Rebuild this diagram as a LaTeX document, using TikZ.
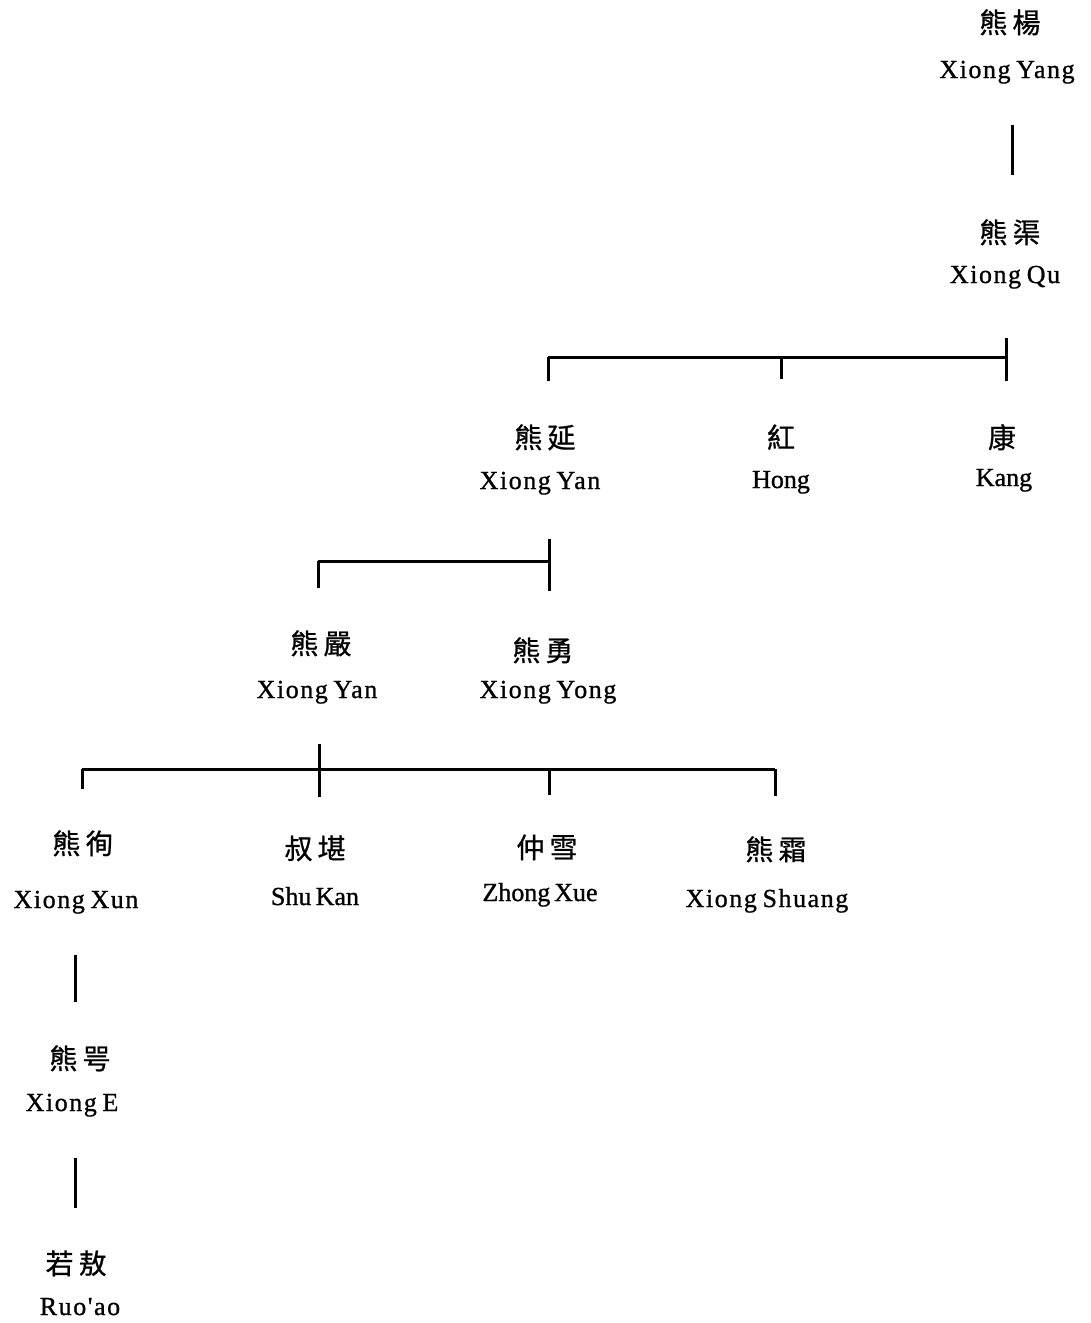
\documentclass[tikz,border=0pt]{standalone}
\usepackage{fontspec}
\setmainfont{Liberation Serif}
\newfontfamily\cjk[FakeBold=0.8]{Noto Sans CJK TC}
\newfontfamily\latsp[LetterSpace=6,FakeBold=1,WordSpace=0.7]{Liberation Serif}
\newfontfamily\latn[FakeBold=1,WordSpace=0.6]{Liberation Serif}
\newcommand\cn[2]{#1\hspace{5pt}#2}
\begin{document}
\begin{tikzpicture}[x=1pt,y=-1pt,
  cnname/.style={inner sep=0pt,anchor=base,font=\cjk\fontsize{28}{28}\selectfont},
  latname/.style={inner sep=0pt,anchor=base,font=\latsp\fontsize{26}{26}\selectfont},
  latnarrow/.style={inner sep=0pt,anchor=base,font=\latn\fontsize{26}{26}\selectfont},
  ln/.style={line width=3pt,line cap=butt}]
\useasboundingbox (0,0) rectangle (1091,1323);

% people: Chinese name and romanisation
\node[cnname] (yangc) at (1010,33) {\cn{熊}{楊}};
\node[latname] (yang) at (1007,78) {Xiong Yang};
\node[cnname] (quc) at (1010,243) {\cn{熊}{渠}};
\node[latname] (qu) at (1005,283) {Xiong Qu};

\node[cnname] (yan1c) at (545,448) {\cn{熊}{延}};
\node[latname] (yan1) at (540,489) {Xiong Yan};
\node[cnname] (hongc) at (781,448) {紅};
\node[latnarrow] (hong) at (781,488) {Hong};
\node[cnname] (kangc) at (1002,448) {康};
\node[latnarrow] (kang) at (1004,486) {Kang};

\node[cnname] (yan2c) at (321,654) {\cn{熊}{嚴}};
\node[latname] (yan2) at (317,698) {Xiong Yan};
\node[cnname] (yongc) at (543,661) {\cn{熊}{勇}};
\node[latname] (yong) at (548,698) {Xiong Yong};

\node[cnname] (xunc) at (83,854) {\cn{熊}{徇}};
\node[latname] (xun) at (76,908) {Xiong Xun};
\node[cnname] (shukanc) at (315,859) {\cn{叔}{堪}};
\node[latnarrow] (shukan) at (315,905) {Shu\,Kan};
\node[cnname] (zhongxuec) at (547,858) {\cn{仲}{雪}};
\node[latnarrow] (zhongxue) at (540,901) {Zhong Xue};
\node[cnname] (shuangc) at (776,860) {\cn{熊}{霜}};
\node[latname] (shuang) at (767,907) {Xiong Shuang};

\node[cnname] (ec) at (80,1069) {\cn{熊}{咢}};
\node[latname] (e) at (72,1111) {Xiong E};
\node[cnname] (ruoaoc) at (76,1274) {\cn{若}{敖}};
\node[latname] (ruoao) at (80,1315) {Ruo'ao};

% junction coordinates
\coordinate (a1) at (1012,125); \coordinate (a2) at (1012,175);
\coordinate (b0) at (1006,338); \coordinate (b1) at (548,357);
\coordinate (b2) at (781,357); \coordinate (b3) at (1006,357);
\coordinate (c0) at (549,539); \coordinate (c1) at (318,561); \coordinate (c2) at (549,561);
\coordinate (d0) at (319,744); \coordinate (d1) at (82,769); \coordinate (d2) at (319,769);
\coordinate (d3) at (549,769); \coordinate (d4) at (775,769);
\coordinate (e1) at (75,955); \coordinate (e2) at (75,1002);
\coordinate (f1) at (75,1158); \coordinate (f2) at (75,1208);

% connectors
\draw[ln] (a1) -- (a2);
\draw[ln] (b1) -- (b3);
\draw[ln] (b0) -- (b3) -- ++(0,24);
\draw[ln] (b1) -- ++(0,24);
\draw[ln] (b2) -- ++(0,22);
\draw[ln] (c1) -- (c2);
\draw[ln] (c0) -- (c2) -- ++(0,30);
\draw[ln] (c1) -- ++(0,27);
\draw[ln] (d1) -- (d4);
\draw[ln] (d0) -- (d2) -- ++(0,28);
\draw[ln] (d1) -- ++(0,20);
\draw[ln] (d3) -- ++(0,26);
\draw[ln] (d4) -- ++(0,27);
\draw[ln] (e1) -- (e2);
\draw[ln] (f1) -- (f2);
\end{tikzpicture}
\end{document}
